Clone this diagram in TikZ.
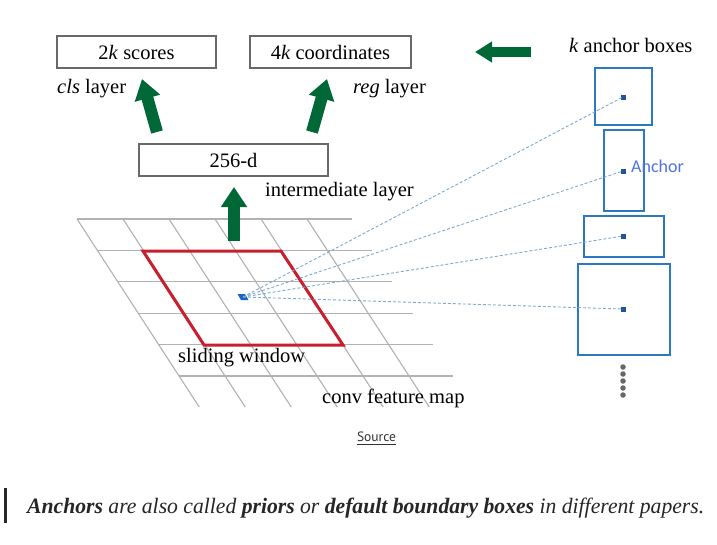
\documentclass[tikz,border=0pt]{standalone}
\usepackage{fontspec}
\usepackage{graphicx}
\setmainfont{Liberation Serif}
\newfontfamily\anchorfont{Carlito}
\newfontfamily\srcfont{PT Sans}
\usetikzlibrary{arrows.meta}
\definecolor{arrgreen}{RGB}{0,104,55}
\definecolor{boxgray}{RGB}{105,105,105}
\definecolor{gridgray}{RGB}{178,178,178}
\definecolor{winred}{RGB}{200,30,45}
\definecolor{anchorblue}{RGB}{45,120,195}
\definecolor{dotblue}{RGB}{30,85,150}
\definecolor{dashblue}{RGB}{125,170,210}
\definecolor{labelblue}{RGB}{80,115,225}
\definecolor{quotegray}{RGB}{40,40,40}
\definecolor{markblue}{RGB}{25,100,200}
\tikzset{
  layerbox/.style={draw=boxgray, line width=1.4pt, minimum height=32pt, inner sep=0pt},
  lbl/.style={font=\fontsize{20.5}{24}\selectfont, inner sep=0pt, anchor=base west},
  garrow/.style={arrgreen, line width=12pt, -{Triangle[width=25pt,length=20pt]}},
  gridline/.style={gridgray, line width=1.1pt},
  anchorbox/.style={draw=anchorblue, line width=1.7pt},
  anchordot/.style={fill=dotblue, minimum size=5pt, inner sep=0pt},
  dashconn/.style={dashblue, line width=0.9pt, dash pattern=on 3pt off 2pt},
  moredot/.style={circle, fill=black!60, minimum size=5.5pt, inner sep=0pt}
}
\begin{document}
\begin{tikzpicture}[x=1pt,y=-1pt]
\useasboundingbox[fill=white] (0,0) rectangle (717,544);
% top boxes
\node[layerbox, minimum width=159pt, font=\fontsize{20.5}{24}\selectfont] (scores) at (136.5,52) {2\textit{k} scores};
\node[layerbox, minimum width=161pt, font=\fontsize{20.5}{24}\selectfont] (coords) at (330.5,52) {4\textit{k} coordinates};
\node[lbl] (cls) at (57,93) {\textit{cls} layer};
\node[lbl] (reg) at (353,93) {\textit{reg} layer};
\node[layerbox, minimum width=189pt, font=\fontsize{20.5}{24}\selectfont] (inter) at (233.5,160) {256-d};
\node[lbl] (interlbl) at (265,196) {intermediate layer};
% grid
\foreach \i in {0,...,5}{
  \pgfmathsetmacro{\yy}{219+31.4*\i}
  \pgfmathsetmacro{\xa}{77+0.65*31.4*\i}
  \pgfmathsetmacro{\xb}{352+20.2*\i}
  \draw[gridline] (\xa,\yy) -- (\xb,\yy);
}
\foreach \x in {77,123,169,215,261,307}{
  \draw[gridline] (\x,219) -- ({\x+0.65*188},407);
}
% sliding window
\draw[winred, line width=3pt, line join=miter] (143,251) -- (281,251) -- (343,345) -- (204,345) -- cycle;
\node[lbl] (slide) at (178,362) {sliding window};
\node[lbl] (conv) at (322,403) {conv feature map};
% marker
\coordinate (m) at (243,297);
\fill[markblue] (237.5,294) -- (245,294) -- (248.5,300) -- (241,300) -- cycle;
% anchor boxes
\draw[anchorbox] (595,68) rectangle (652,125);
\draw[anchorbox] (604,130) rectangle (644,211);
\draw[anchorbox] (584,216) rectangle (664,257);
\draw[anchorbox] (578,264) rectangle (670,355);
\node[anchordot] (d1) at (623,97) {};
\node[anchordot] (d2) at (623,171) {};
\node[anchordot] (d3) at (623,236) {};
\node[anchordot] (d4) at (623,309) {};
\node[anchor=west, inner sep=0pt, text=labelblue, font=\anchorfont\fontsize{18}{20}\selectfont] (anch) at (631,166) {Anchor};
\foreach \d in {d1,d2,d3,d4}{ \draw[dashconn] (m) -- (\d.center); }
\foreach \k/\yy in {1/367,2/374,3/381,4/388,5/395}{ \node[moredot] (g\k) at (623,\yy) {}; }
\node[lbl] (kboxes) at (569,52) {\textit{k} anchor boxes};
% green arrows
\coordinate (a1s) at (157,132); \coordinate (a1t) at (142,79);
\coordinate (a2s) at (312,132); \coordinate (a2t) at (327,79);
\coordinate (a3s) at (234,241); \coordinate (a3t) at (234,187);
\coordinate (a4s) at (531,52);  \coordinate (a4t) at (475,52);
\draw[garrow] (a1s) -- (a1t);
\draw[garrow] (a2s) -- (a2t);
\draw[garrow] (a3s) -- (a3t);
\draw[arrgreen, line width=10pt, -{Triangle[width=20pt,length=17pt]}] (a4s) -- (a4t);
% source
\node[inner sep=0pt, text=black!80, font=\srcfont\fontsize{13.5}{15}\selectfont] (src) at (376.5,437) {Source};
\draw[black!80, line width=0.8pt] ([yshift=-2.5pt]src.south west) -- ([yshift=-2.5pt]src.south east);
% quote
\fill[quotegray] (3.5,488) rectangle (6.5,523);
\node[inner sep=0pt, anchor=base west, text=black!85] (quote) at (27,513)
  {\resizebox{677pt}{\height}{\fontsize{22}{26}\selectfont\itshape\textbf{Anchors} are also called \textbf{priors} or \textbf{default boundary boxes} in different papers.}};
\end{tikzpicture}
\end{document}
